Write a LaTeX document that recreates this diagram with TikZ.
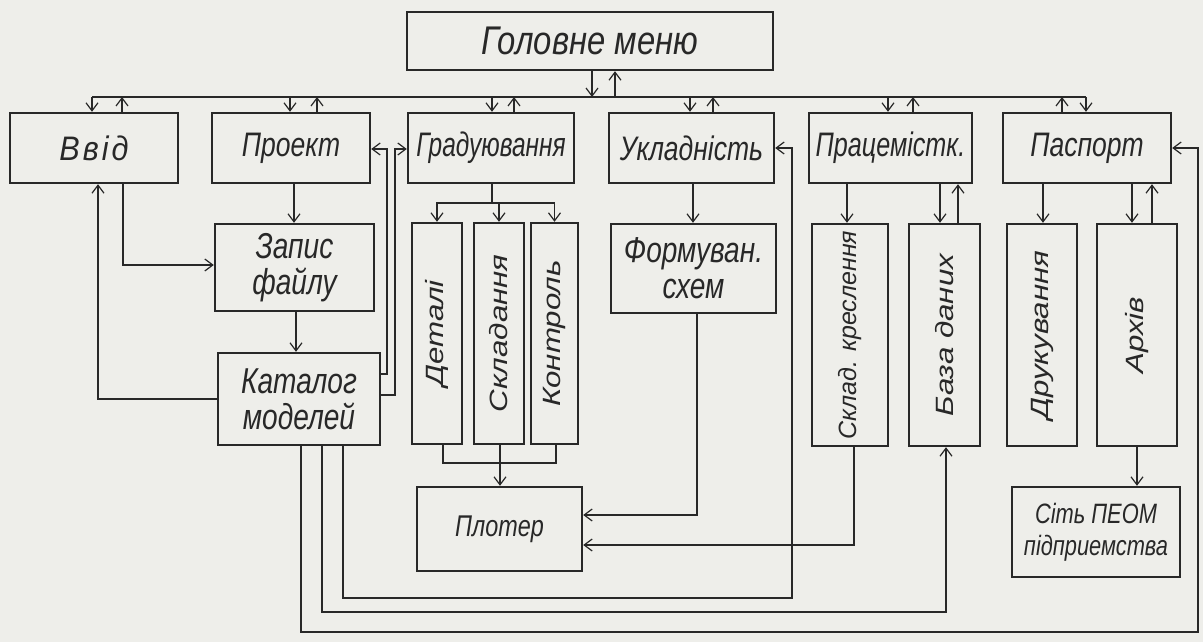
\documentclass[tikz,border=0pt]{standalone}
\usepackage{fontspec}
\usepackage{graphicx}
\setmainfont{Liberation Sans}
\usetikzlibrary{arrows.meta,calc}
\definecolor{ink}{RGB}{40,40,40}
\definecolor{paper}{RGB}{238,238,234}
\newcommand{\cn}[1]{\scalebox{0.78}[1]{#1}}
\newcommand{\vt}[1]{\rotatebox{90}{\scalebox{1.25}[1]{#1}}}
\begin{document}
\begin{tikzpicture}[x=0.5pt,y=-0.5pt,
  box/.style={draw=ink, line width=1.2pt, inner sep=0pt, align=center, text=ink,
    font=\fontsize{17}{18}\selectfont\itshape},
  tbox/.style={box, font=\fontsize{18}{18}\selectfont\itshape},
  vbox/.style={box, font=\fontsize{12.5}{15}\selectfont\itshape},
  ln/.style={draw=ink, line width=0.6pt},
  arr/.style={ln, -{Straight Barb[length=4pt,width=6pt]}},
]
\fill[paper] (0,0) rectangle (1203,642);
\useasboundingbox (0,0) rectangle (1203,642);

% nodes
\node[box, font=\fontsize{20}{22}\selectfont\itshape, minimum width=183pt, minimum height=29pt] (menu) at (590,41) {\scalebox{0.82}[1]{Головне меню}};
\node[box, minimum width=84pt, minimum height=35pt] (vvid) at (94,148) {\scalebox{0.9}[1]{\addfontfeatures{LetterSpace=10}Ввід}};
\node[box, minimum width=79pt, minimum height=35pt] (proekt) at (291,148) {\cn{Проект}};
\node[box, minimum width=83pt, minimum height=35pt] (grad) at (491,148) {\scalebox{0.72}[1]{Градуювання}};
\node[box, minimum width=82.5pt, minimum height=35pt] (ukl) at (691.5,148) {\cn{Укладність}};
\node[box, minimum width=81.5pt, minimum height=35pt] (prac) at (890.5,148) {\scalebox{0.74}[1]{Працемістк.}};
\node[box, minimum width=84pt, minimum height=35pt] (pasp) at (1087,148) {\cn{Паспорт}};
\node[tbox, minimum width=79.5pt, minimum height=43.5pt] (zapys) at (294.5,267.5) {\cn{Запис}\\\cn{файлу}};
\node[tbox, minimum width=81pt, minimum height=46pt] (katalog) at (299,399) {\cn{Каталог}\\\cn{моделей}};
\node[vbox, minimum width=25pt, minimum height=110.5pt] (detali) at (437,333.5) {\vt{Деталі}};
\node[vbox, minimum width=25pt, minimum height=110.5pt] (sklad) at (499,333.5) {\vt{Складання}};
\node[vbox, minimum width=23.5pt, minimum height=110.5pt] (kontrol) at (554.5,333.5) {\vt{Контроль}};
\node[tbox, minimum width=82.5pt, minimum height=44.5pt] (form) at (693.5,268.5) {\cn{Формуван.}\\\cn{схем}};
\node[vbox, font=\fontsize{12.5}{14}\selectfont\itshape, minimum width=38pt, minimum height=111pt] (skladk) at (850,335) {\rotatebox{90}{Склад. креслення}};
\node[vbox, minimum width=35.5pt, minimum height=111pt] (baza) at (944.5,335) {\vt{База даних}};
\node[vbox, minimum width=35pt, minimum height=111pt] (druk) at (1042,335) {\vt{Друкування}};
\node[vbox, minimum width=40pt, minimum height=111pt] (arkhiv) at (1137,335) {\vt{Архів}};
\node[box, font=\fontsize{15}{18}\selectfont\itshape, minimum width=82.5pt, minimum height=42pt] (ploter) at (499.5,529) {\cn{Плотер}};
\node[box, font=\fontsize{14}{16}\selectfont\itshape, minimum width=84pt, minimum height=45pt] (merezha) at (1096,532) {\cn{Сіть ПЕОМ}\\\cn{підприемства}};

% main bus
\coordinate (busL) at (92,97);
\coordinate (busR) at (1086,97);
\draw[ln] (busL) -- (busR);
\draw[arr] (592,0 |- menu.south) -- (592,0 |- busL);
\draw[arr] (615,0 |- busL) -- (615,0 |- menu.south);
\foreach \n/\d/\u in {vvid/92/122, proekt/290/317, grad/492/514, ukl/690/713, prac/888/913, pasp/1086/1062} {
  \draw[arr] (\d,0 |- busL) -- (\d,0 |- \n.north);
  \draw[arr] (\u,0 |- \n.north) -- (\u,0 |- busL);
}

% left group
\draw[arr] (123,0 |- vvid.south) |- (zapys.west |- 0,265);
\draw[arr] (katalog.west |- 0,399) -| (98,0 |- vvid.south);
\draw[arr] (294,0 |- proekt.south) -- (294,0 |- zapys.north);
\draw[arr] (296,0 |- zapys.south) -- (296,0 |- katalog.north);
\draw[arr] (katalog.east |- 0,374) -| (387,149) -- (proekt.east |- 0,149);
\draw[arr] (katalog.east |- 0,395) -| (395,149) -- (grad.west |- 0,149);

% graduation group
\draw[arr] (492,0 |- grad.south) -- (492,203) -| (detali.north);
\draw[arr] (492,203) -| (sklad.north);
\draw[arr] (492,203) -| (kontrol.north);
\coordinate (tj) at (500,463);
\draw[ln] (443,0 |- detali.south) |- (tj);
\draw[ln] (556,0 |- kontrol.south) |- (tj);
\draw[arr] (500,0 |- sklad.south) -- (500,0 |- ploter.north);

% ukladnist / pracemistk / pasport
\draw[arr] (693,0 |- ukl.south) -- (693,0 |- form.north);
\draw[arr] (697,0 |- form.south) |- (ploter.east |- 0,515);
\draw[arr] (847,0 |- prac.south) -- (847,0 |- skladk.north);
\draw[arr] (940,0 |- prac.south) -- (940,0 |- baza.north);
\draw[arr] (958,0 |- baza.north) -- (958,0 |- prac.south);
\draw[arr] (854,0 |- skladk.south) |- (ploter.east |- 0,545);
\draw[arr] (1043,0 |- pasp.south) -- (1043,0 |- druk.north);
\draw[arr] (1132,0 |- pasp.south) -- (1132,0 |- arkhiv.north);
\draw[arr] (1152,0 |- arkhiv.north) -- (1152,0 |- pasp.south);
\draw[arr] (1137,0 |- arkhiv.south) -- (1137,0 |- merezha.north);

% long loops from katalog
\draw[arr] (343,0 |- katalog.south) |- (792,598) |- (ukl.east);
\draw[arr] (322,0 |- katalog.south) |- (946,612) -- (946,0 |- baza.south);
\draw[arr] (301,0 |- katalog.south) |- (1198,632) |- (pasp.east);
\end{tikzpicture}
\end{document}
